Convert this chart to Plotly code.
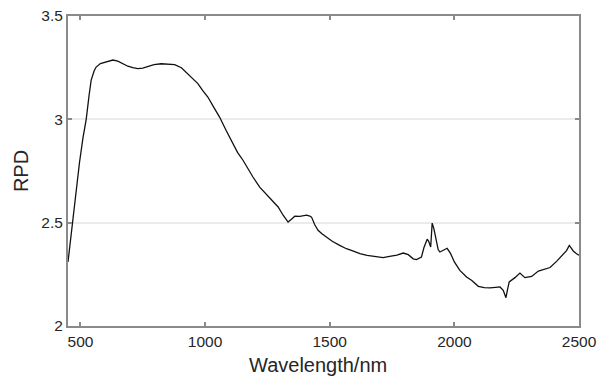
import plotly.graph_objects as go

wavelength = [450, 460, 469, 480, 496, 510, 523, 535, 543, 555, 563, 580, 597, 615, 630, 650, 670, 690, 710, 730,
              750, 770, 795, 824, 850, 878, 905, 931, 950, 971, 990, 1011, 1038, 1058, 1085, 1112, 1130, 1152, 1170, 1192,
              1219, 1250, 1270, 1293, 1313, 1333, 1345, 1360, 1380, 1395, 1407, 1420, 1427, 1440, 1453, 1470, 1487, 1510,
              1540, 1567, 1595, 1621, 1650, 1674, 1700, 1714, 1740, 1770, 1795, 1815, 1835, 1848, 1868, 1878, 1891, 1897,
              1905, 1911, 1918, 1925, 1935, 1942, 1955, 1971, 1985, 2000, 2022, 2049, 2070, 2096, 2120, 2143, 2165, 2183,
              2196, 2207, 2213, 2220, 2243, 2263, 2283, 2310, 2337, 2360, 2384, 2411, 2437, 2450, 2461, 2470, 2477, 2490, 2500]
rpd = [2.31, 2.42, 2.51, 2.62, 2.79, 2.91, 3.00, 3.12, 3.19, 3.235, 3.253, 3.27, 3.277, 3.283, 3.287, 3.282, 3.27, 3.257, 3.25, 3.245,
       3.248, 3.257, 3.265, 3.269, 3.268, 3.265, 3.25, 3.221, 3.20, 3.173, 3.14, 3.108, 3.052, 3.011, 2.945, 2.882, 2.84, 2.802, 2.765, 2.721,
       2.672, 2.63, 2.605, 2.576, 2.536, 2.503, 2.515, 2.531, 2.530, 2.535, 2.536, 2.532, 2.527, 2.49, 2.463, 2.445, 2.431, 2.41,
       2.390, 2.374, 2.362, 2.350, 2.342, 2.337, 2.335, 2.331, 2.337, 2.343, 2.353, 2.345, 2.325, 2.321, 2.334, 2.38, 2.42, 2.41,
       2.382, 2.498, 2.47, 2.42, 2.37, 2.358, 2.365, 2.376, 2.35, 2.31, 2.269, 2.237, 2.22, 2.192, 2.186, 2.184, 2.187, 2.189,
       2.173, 2.137, 2.175, 2.213, 2.234, 2.256, 2.234, 2.240, 2.266, 2.275, 2.283, 2.314, 2.347, 2.365, 2.390, 2.375, 2.363, 2.35, 2.342]

x_ticks = [500, 1000, 1500, 2000, 2500]
x_tick_labels = ["500", "1000", "1500", "2000", "2500"]
y_ticks = [2, 2.5, 3, 3.5]
y_tick_labels = ["2", "2.5", "3", "3.5"]
x_title = "Wavelength/nm"
y_title = "RPD"

FONT = "Liberation Sans, Arial, Helvetica, sans-serif"
AX = "#8a8a8a"

fig = go.Figure()
fig.add_trace(go.Scatter(x=wavelength, y=rpd, mode="lines",
                         line=dict(color="#111111", width=1.3), showlegend=False))

fig.update_layout(
    width=599, height=376,
    margin=dict(l=68, r=20, t=16, b=50),
    paper_bgcolor="white", plot_bgcolor="white",
    font=dict(family=FONT, color="#262626"),
)
fig.add_annotation(text=x_title, xref="paper", yref="paper", x=0.49, y=0,
                   xanchor="center", yanchor="top", yshift=-26, showarrow=False,
                   font=dict(size=20, family=FONT, color="#262626"))
fig.update_xaxes(
    automargin=False,
    range=[450, 2500], tickvals=x_ticks, ticktext=x_tick_labels,
    showgrid=False, zeroline=False,
    showline=True, linecolor=AX, linewidth=2, mirror="ticks",
    ticks="inside", ticklen=4, tickwidth=1.5, tickcolor=AX,
    tickfont=dict(size=15.5, family=FONT, color="#262626"),
)
fig.update_yaxes(
    automargin=False,
    range=[2, 3.5], tickvals=y_ticks, ticktext=y_tick_labels,
    showgrid=True, gridcolor="#ebebeb", gridwidth=1.5, zeroline=False,
    showline=True, linecolor=AX, linewidth=2, mirror="ticks",
    ticks="inside", ticklen=4, tickwidth=1.5, tickcolor=AX,
    tickfont=dict(size=15.5, family=FONT, color="#262626"),
    title=dict(text=y_title, font=dict(size=20, family=FONT, color="#262626"), standoff=7),
)

fig.write_html("out.html")
